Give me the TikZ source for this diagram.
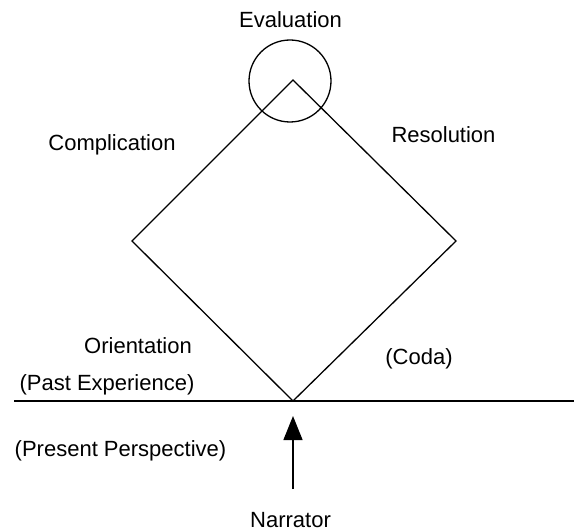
\documentclass[tikz,border=0pt]{standalone}
\usepackage{fontspec}
\setmainfont{Liberation Sans}
\usetikzlibrary{arrows.meta}
\begin{document}
\begin{tikzpicture}[x=1pt,y=-1pt,
  lbl/.style={font=\fontsize{22}{26}\selectfont, inner sep=0pt, anchor=base},
  ln/.style={line width=1.3pt}]
\useasboundingbox (0,0) rectangle (574,532);
\coordinate (T) at (293,80);
\coordinate (L) at (132,241);
\coordinate (R) at (456,241);
\coordinate (B) at (293,401);
\draw[ln, line join=miter] (T) -- (R) -- (B) -- (L) -- cycle;
\node[ln, draw, circle, minimum size=82pt, inner sep=0pt] (circ) at (290,81) {};
\coordinate (hl) at (14,401);
\coordinate (hr) at (574,401);
\draw[ln] (hl) -- (hr);
\coordinate (as) at (293,489);
\coordinate (ae) at (293,416);
\draw[ln, -{Triangle[length=24pt,width=19pt]}] (as) -- (ae);
\node[lbl] (ev) at (290.5,28) {Evaluation};
\node[lbl] (co) at (112,151) {Complication};
\node[lbl] (re) at (443.5,143) {Resolution};
\node[lbl] (or) at (138,353) {Orientation};
\node[lbl] (cd) at (419,364) {(Coda)};
\node[lbl] (pe) at (107,391) {(Past Experience)};
\node[lbl] (pp) at (120.5,456) {(Present Perspective)};
\node[lbl] (na) at (290.5,527) {Narrator};
\end{tikzpicture}
\end{document}
